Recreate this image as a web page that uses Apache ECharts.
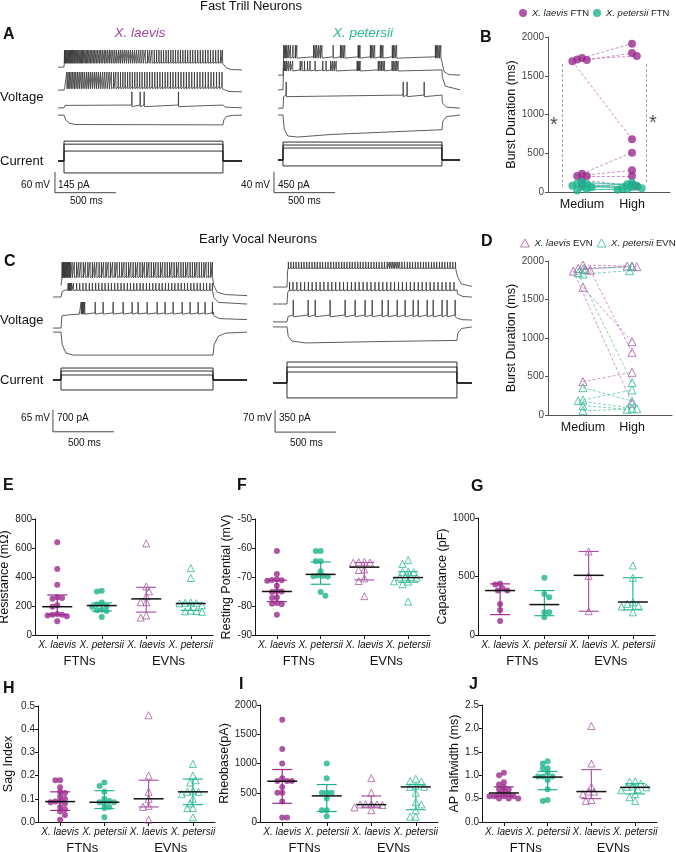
<!DOCTYPE html>
<html><head><meta charset="utf-8">
<script src="https://cdn.jsdelivr.net/npm/echarts@6/dist/echarts.min.js"></script>
<style>html,body{margin:0;padding:0;background:#fff}#c{width:676px;height:852px}</style>
</head><body><div id="c"></div>
<script>
const FONT = '"Liberation Sans", Arial, Helvetica, sans-serif';
const C_PUR = '#9b2a8d', C_TEAL = '#1db38c', C_PUR_L = '#aa5aa3', C_TEAL_L = '#2dba97', C_TRACE = '#333333';

// ================= Panel A / C : membrane voltage traces (ms, mV) and current steps (pA) =================
// scale bars: [mV, pA, ms]
const aLaevisScale = [60, 145, 500];
const aPetersiiScale = [40, 450, 500];
const cLaevisScale = [65, 700, 500];
const cPetersiiScale = [70, 350, 500];
const aStepMs = 1303, cLaevisStepMs = 1246, cPetersiiStepMs = 1393;
const aLaevisCurrents = [138, 117, 69, -83];
const aPetersiiCurrents = [385, 321, 257, -128];
const cLaevisCurrents = [382, 287, 159, -318];
const cPetersiiCurrents = [334, 254, 175, -238];

// A, X. laevis FTN
const aL1Before = [[-49,-78],[0,-78],[2,-66]];
const aL1Spikes = [3,9,16,24,31,38,46,53,61,69,78,86,95,104,112,122,131,141,150,160,171,181,192,203,214,226,238,250,262,275,288,301,315,329,342,356,371,385,400,415,430,446,461,477,493,509,526,543,560,577,594,612,629,647,665,684,702,720,739,758,777,796,815,835,854,874,893,913,933,953,973,993,1013,1034,1054,1075,1095,1116,1137,1158,1179,1200,1221,1242,1263,1284,1298];
const aL1Level = [-63, -29];
const aL1After = [[1303,-63],[1310,-72],[1330,-80],[1370,-85],[1459,-86]];
const aL2Before = [[-49,-144],[0,-144],[6,-136]];
const aL2Spikes = [22,33,45,57,70,83,96,110,124,139,153,168,184,199,215,231,248,264,281,298,316,333,351,369,387,406,424,443,462,481,500,520,539,559,579,599,619,639,660,680,701,722,743,764,785,806,828,849,871,892,914,936,958,980,1002,1024,1046,1068,1091,1113,1136,1158,1181,1204,1226,1249,1272,1294];
const aL2Level = [-135, -92];
const aL2After = [[1303,-135],[1315,-143],[1350,-148],[1459,-149]];
const aL3Before = [[-49,-195],[0,-195],[8,-188]];
const aL3Spikes = [555, 623, 656, 937];
const aL3Level = [-187, -149];
const aL3After = [[1303,-187],[1320,-193],[1459,-195]];
const aL4Before = [[-49,-216],[0,-216],[15,-230],[40,-239],[90,-243]];
const aL4Level = [-244, -244];
const aL4After = [[1303,-244],[1310,-230],[1330,-220],[1380,-217],[1459,-216]];

// A, X. petersii FTN
const aP1Before = [[-41,-67],[0,-67],[4,-40]];
const aP1Spikes = [5,14,22,31,45,60,80,100,112,250,262,275,290,305,318,410,470,480,492,505,615,622,630,715,725,737,750,797,808,818,895,905,917,930,1248,1258,1268,1280,1292];
const aP1Level = [-32, -10];
const aP1After = [[1303,-32],[1306,-45],[1320,-60],[1360,-66],[1451,-67]];
const aP2Before = [[-41,-95],[0,-95],[4,-60]];
const aP2Spikes = [8,16,28,42,60,78,140,155,175,200,220,262,325,352,390,405,420,435,607,615,622,631,780,792,805,818,830,893,905,918,930,942];
const aP2Level = [-57, -40];
const aP2After = [[1303,-57],[1306,-70],[1330,-88],[1451,-95]];
const aP3Before = [[-41,-130],[0,-130],[5,-108]];
const aP3Spikes = [25, 984, 1016, 1156];
const aP3Level = [-105, -80];
const aP3After = [[1303,-105],[1306,-120],[1340,-128],[1451,-130]];
const aP4Before = [[-41,-143],[0,-143],[10,-170],[40,-183],[120,-185]];
const aP4Level = [-180, -180];
const aP4After = [[400,-180],[800,-176],[1303,-171],[1310,-155],[1340,-146],[1451,-143]];

// C, X. laevis EVN
const cL1Before = [[0,-105],[6,-90]];
const cL1Spikes = [8,14,20,26,32,38,45,52,60,68,76,90,108,127,145,163,182,200,219,237,256,274,292,311,330,348,367,385,404,422,441,459,478,497,515,534,553,571,590,609,627,646,665,683,702,720,739,758,776,795,814,832,851,870,889,907,926,945,963,982,1001,1020,1038,1057,1076,1095,1113,1132,1151,1170,1188,1207,1226,1240];
const cL1Level = [-77, -36];
const cL1After = [[1246,-77],[1252,-105],[1280,-125],[1350,-132],[1525,-135]];
const cL2Before = [[-66,-139],[0,-139],[10,-122],[40,-118]];
const cL2Spikes = [57,63,70,78,86,101,127,152,179,204,231,256,283,308,335,360,387,412,439,464,491,516,543,568,595,620,647,672,699,724,751,776,803,828,855,880,907,932,959,984,1011,1036,1063,1088,1115,1140,1167,1192,1219,1240];
const cL2Level = [-118, -98];
const cL2After = [[1246,-118],[1252,-140],[1290,-155],[1525,-160]];
const cL3Before = [[-66,-231],[0,-231],[8,-195],[60,-192],[150,-190]];
const cL3Spikes = [164,170,177,185,193,279,344,426,508,582,631,705,787,852,918,992,1057,1123,1180,1240];
const cL3Level = [-186, -154];
const cL3After = [[1246,-183],[1255,-195],[1300,-203],[1525,-206]];
const cL4Before = [[-66,-243],[0,-243],[10,-280],[40,-305],[100,-311]];
const cL4Level = [-311, -311];
const cL4After = [[1246,-311],[1255,-280],[1290,-255],[1350,-246],[1525,-243]];

// C, X. petersii EVN
const cP1Before = [[-115,-118],[0,-118],[5,-65]];
const cP1Spikes = [10,31,52,73,95,117,138,160,181,204,226,247,270,291,314,335,358,381,402,424,447,468,490,513,534,556,579,600,622,645,666,688,711,732,754,777,798,820,838,852,866,879,894,908,922,941,962,985,1006,1028,1051,1072,1094,1117,1138,1160,1183,1204,1226,1249,1270,1292,1315,1336,1358,1380];
const cP1Level = [-57, -38];
const cP1After = [[1393,-57],[1398,-85],[1430,-108],[1516,-116]];
const cP2Before = [[-115,-172],[0,-172],[6,-135]];
const cP2Spikes = [20,48,80,111,143,174,205,238,270,301,335,366,398,431,462,494,527,558,590,623,655,687,720,752,784,817,849,880,913,945,978,1010,1042,1075,1107,1140,1172,1204,1237,1270,1302,1335,1368];
const cP2Level = [-127, -102];
const cP2After = [[1393,-127],[1398,-140],[1440,-148],[1516,-150]];
const cP3Before = [[-115,-229],[0,-229],[8,-212]];
const cP3Spikes = [50,172,230,352,475,557,639,697,779,828,902,967,1033,1074,1148,1197,1270,1311,1377];
const cP3Level = [-207, -159];
const cP3After = [[1393,-207],[1398,-218],[1440,-222],[1516,-223]];
const cP4Before = [[-115,-245],[0,-245],[10,-275],[40,-290],[150,-296]];
const cP4Level = [-296, -296];
const cP4After = [[700,-292],[1393,-288],[1400,-265],[1430,-250],[1516,-245]];

// ================= Panel B / D : burst duration (ms) =================
const burstLevels = ['Medium', 'High'];
const bLaevisMedium   = [1729, 1703, 1710, 1686, 236, 206, 206, 150, 90];
const bLaevisHigh     = [1914, 1794, 1755, 680, 508, 280, 206, 86, 70];
const bPetersiiMedium = [20, 40, 60, 80, 100, 110, 130, 70];
const bPetersiiHigh   = [50, 30, 120, 60, 40, 100, 80, 50];
const bSigMedium = [1650, 70];
const bSigHigh = [1650, 120];
const dLaevisMedium   = [1892, 1948, 1905, 1658, 1880, 433, 1870];
const dLaevisHigh     = [1935, 1935, 1926, 952, 814, 554, 152];
const dPetersiiMedium = [1896, 1831, 1850, 355, 195, 186, 121, 56];
const dPetersiiHigh   = [1926, 1874, 420, 182, 325, 87, 74, 80];

// ================= Panels E-J =================
const groupLabels = ['X. laevis', 'X. petersii', 'X. laevis', 'X. petersii'];
const cellTypes = ['FTNs', 'EVNs'];

const resFtnLaevis = [640, 455, 347, 260, 255, 250, 205, 195, 145, 140, 140, 135, 130, 95];
const resFtnPetersii = [305, 300, 225, 210, 200, 195, 175, 170, 165, 125];
const resEvnLaevis = [632, 335, 301, 267, 226, 226, 135, 120];
const resEvnPetersii = [461, 393, 225, 222, 220, 218, 205, 168, 165, 163, 160];
const resMedian = [195, 203, 249, 217], resQ1 = [140, 165, 158, 170], resQ3 = [276, 221, 329, 221];

const rmpFtnLaevis = [-61, -69, -70.8, -71, -71.3, -71.1, -73, -75, -75.2, -74.8, -77, -77.2, -79.2, -79, -79.4, -83];
const rmpFtnPetersii = [-61, -61, -64.6, -64.6, -68, -69.6, -69.8, -69.5, -69.7, -75.2, -76.5];
const rmpEvnLaevis = [-64.8, -65, -65.1, -64.9, -67.4, -67.6, -70.5, -71.4, -76.6];
const rmpEvnPetersii = [-64.2, -65.5, -68.2, -68.3, -68.1, -70, -70.1, -70.2, -69.9, -71.5, -71.6, -72.5, -78.5];
const rmpMedian = [-75, -69.1, -66.6, -70.2], rmpQ1 = [-78.5, -72.5, -71, -71.8], rmpQ3 = [-71.1, -64.8, -65, -68.2];

const capFtnLaevis = [437, 431, 400, 380, 380, 266, 214, 120];
const capFtnPetersii = [489, 351, 323, 194, 194, 151];
const capEvnLaevis = [714, 506, 203];
const capEvnPetersii = [594, 489, 280, 266, 250, 243, 194];
const capMedian = [380, 260, 510, 282], capQ1 = [174, 165, 203, 215], capQ3 = [437, 380, 714, 490];

const sagFtnLaevis = [0.18, 0.18, 0.15, 0.13, 0.125, 0.11, 0.1, 0.09, 0.088, 0.085, 0.08, 0.065, 0.055, 0.045, 0.03, 0.01];
const sagFtnPetersii = [0.17, 0.155, 0.13, 0.1, 0.09, 0.085, 0.085, 0.08, 0.065, 0.06, 0.02];
const sagEvnLaevis = [0.46, 0.2, 0.13, 0.1, 0.07, 0.065, 0.01];
const sagEvnPetersii = [0.25, 0.2, 0.18, 0.17, 0.135, 0.13, 0.13, 0.12, 0.1, 0.08, 0.06, 0.06, 0.02];
const sagMedian = [0.088, 0.085, 0.1, 0.13], sagQ1 = [0.05, 0.058, 0.065, 0.075], sagQ3 = [0.13, 0.135, 0.18, 0.185];

const rheoFtnLaevis = [1750, 1250, 1000, 750, 700, 700, 700, 600, 500, 500, 350, 75, 75];
const rheoFtnPetersii = [1000, 750, 500, 500, 500, 400, 200, 200, 100];
const rheoEvnLaevis = [750, 500, 300, 300, 300, 300, 290, 250, 200];
const rheoEvnPetersii = [740, 700, 690, 620, 600, 600, 500, 340, 300, 200, 90, 90];
const rheoMedian = [697, 446, 297, 600], rheoQ1 = [320, 180, 255, 210], rheoQ3 = [897, 640, 446, 640];

const apFtnLaevis = [1.05, 1.0, 0.85, 0.8, 0.75, 0.7, 0.7, 0.65, 0.6, 0.6, 0.55, 0.55, 0.55, 0.55, 0.5, 0.5, 0.5];
const apFtnPetersii = [1.3, 1.25, 1.15, 1.15, 1.05, 0.97, 0.97, 0.97, 0.9, 0.7, 0.47, 0.45];
const apEvnLaevis = [2.05, 1.25, 0.75, 0.65, 0.65, 0.6, 0.47, 0.45];
const apEvnPetersii = [0.87, 0.86, 0.82, 0.76, 0.75, 0.74, 0.7, 0.68, 0.6, 0.53, 0.45];
const apMedian = [0.62, 0.96, 0.65, 0.74], apQ1 = [0.55, 0.69, 0.5, 0.6], apQ3 = [0.75, 1.08, 1.12, 0.82];

// ================= build =================
const option = { animation:false, backgroundColor:'#fff', textStyle:{fontFamily:FONT},
  grid:[], xAxis:[], yAxis:[], series:[], legend:[], graphic:{elements:[]} };
function addGrid(g){ option.grid.push(Object.assign({outerBoundsMode:'none', containLabel:false}, g)); return option.grid.length-1; }
function addAxis(kind, a){ option[kind].push(a); return option[kind].length-1; }
function lineSeries(xi, yi, data, color, width, extra){
  return Object.assign({type:'line', xAxisIndex:xi, yAxisIndex:yi, data, showSymbol:false, symbol:'none',
    lineStyle:{color, width}, silent:true, clip:false, z:2, animation:false}, extra||{});
}
function traceData(before, spikes, level, after){
  const d = before.slice();
  const base = level[0], peak = level[1], amp = peak - base;
  spikes.forEach(t => { d.push([t, base], [t+1.2, peak], [t+2.6, base - amp*0.12], [t+4, base]); });
  return d.concat(after);
}

function tracePanel(L, traces, currents, stepMs, scale){
  const gi = addGrid({left:L.left, top:L.top, width:L.width, height:L.height});
  const xi = addAxis('xAxis', {gridIndex:gi, type:'value', min:-150, max:1600, show:false});
  const yv = addAxis('yAxis', {gridIndex:gi, type:'value', min:L.mvMin, max:0, show:false});
  const pxPerMv = L.height / (-L.mvMin);
  const pxPerPa = scale[0]*pxPerMv / scale[1];
  const yc = addAxis('yAxis', {gridIndex:gi, type:'value', min:-(L.height - L.curBase)/pxPerPa, max:L.curBase/pxPerPa, show:false});
  traces.forEach(tr => option.series.push(lineSeries(xi, yv, traceData(tr[0], tr[1], tr[2], tr[3]), C_TRACE, 0.8)));
  currents.forEach(I => option.series.push(lineSeries(xi, yc,
    [[L.tStart,0],[0,0],[0,I],[stepMs,I],[stepMs,0],[L.tEnd,0]], '#1a1a1a', 0.9)));
  option.series.push(lineSeries(xi, yv,
    [[L.barT, L.barTop],[L.barT, L.barTop - scale[0]],[L.barT + scale[2], L.barTop - scale[0]]], '#333', 0.9));
}

tracePanel({left:45.7, top:40, width:213.5, height:160, mvMin:-460, curBase:121, tStart:-49, tEnd:1459, barT:-74, barTop:-379},
  [[aL1Before,aL1Spikes,aL1Level,aL1After],[aL2Before,aL2Spikes,aL2Level,aL2After],[aL3Before,aL3Spikes,aL3Level,aL3After],[aL4Before,[],aL4Level,aL4After]],
  aLaevisCurrents, aStepMs, aLaevisScale);
tracePanel({left:264.7, top:40, width:213.5, height:160, mvMin:-305, curBase:120, tStart:-41, tEnd:1451, barT:-74, barTop:-251},
  [[aP1Before,aP1Spikes,aP1Level,aP1After],[aP2Before,aP2Spikes,aP2Level,aP2After],[aP3Before,aP3Spikes,aP3Level,aP3After],[aP4Before,[],aP4Level,aP4After]],
  aPetersiiCurrents, aStepMs, aPetersiiScale);
tracePanel({left:42.7, top:250, width:213.5, height:200, mvMin:-592, curBase:130, tStart:-66, tEnd:1525, barT:-66, barTop:-473},
  [[cL1Before,cL1Spikes,cL1Level,cL1After],[cL2Before,cL2Spikes,cL2Level,cL2After],[cL3Before,cL3Spikes,cL3Level,cL3After],[cL4Before,[],cL4Level,cL4After]],
  cLaevisCurrents, cLaevisStepMs, cLaevisScale);
tracePanel({left:268.7, top:250, width:213.5, height:200, mvMin:-637, curBase:133, tStart:-115, tEnd:1516, barT:-98, barTop:-510},
  [[cP1Before,cP1Spikes,cP1Level,cP1After],[cP2Before,cP2Spikes,cP2Level,cP2After],[cP3Before,cP3Spikes,cP3Level,cP3After],[cP4Before,[],cP4Level,cP4After]],
  cPetersiiCurrents, cPetersiiStepMs, cPetersiiScale);

// beeswarm layout (pixel offsets) so that overlapping points spread sideways (partial overlap allowed)
function swarmOffsets(values, pxPerUnit, dist){
  const order = values.map((v,i)=>i).sort((a,b)=> values[b]-values[a] || a-b);
  const placed = [], off = new Array(values.length).fill(0);
  let flip = 1;
  for (const i of order){
    const y = values[i]*pxPerUnit;
    let chosen = 0;
    for (let k=0;k<80;k++){
      const x = k===0 ? 0 : (k%2 ? flip : -flip) * Math.ceil(k/2) * dist * 0.5;
      if (placed.every(p => (p.x-x)*(p.x-x) + (p.y-y)*(p.y-y) >= dist*dist*0.92)) { chosen = x; break; }
    }
    flip = -flip;
    placed.push({x:chosen, y}); off[i] = chosen;
  }
  return off;
}

const axisBlack = {color:'#151515', width:1};
const plainNum = v => String(Math.round(v*1000)/1000);
// ---- Burst panels
function burstPanel(P, sets, sigs, legendCfg){
  const gi = addGrid({left:P.left, top:P.top, width:P.width, height:P.height});
  const xi = addAxis('xAxis', {gridIndex:gi, type:'value', min:P.xMin, max:P.xMax, splitLine:{show:false},
    axisLine:{onZero:false, lineStyle:{color:'#555', width:1}}, axisTick:{show:false},
    axisLabel:{customValues:[1,2], formatter:v=>burstLevels[Math.round(v)-1], fontSize:12.5, color:'#111', margin:6}});
  const yi = addAxis('yAxis', {gridIndex:gi, type:'value', min:0, max:2000, interval:500, splitLine:{show:false},
    name:'Burst Duration (ms)', nameLocation:'middle', nameGap:P.nameGap, nameTextStyle:{fontSize:12.5, color:'#111'},
    axisLine:{show:true, onZero:false, lineStyle:{color:'#555', width:1}}, axisTick:{show:true, length:3, lineStyle:{color:'#555'}},
    axisLabel:{fontSize:10, color:'#444', margin:4, formatter:plainNum}});
  const pxY = P.height/2000, pxX = P.width/(P.xMax-P.xMin);
  sets.forEach(s => {
    const om = swarmOffsets(s.med, pxY, s.size*0.6), oh = swarmOffsets(s.high, pxY, s.size*0.6);
    const pm = s.med.map((v,i)=>[1 + om[i]/pxX, v]), ph = s.high.map((v,i)=>[2 + oh[i]/pxX, v]);
    const n = Math.min(pm.length, ph.length);
    const lines = [];
    for (let i=0;i<n;i++) lines.push({coords:[pm[i], ph[i]]});
    option.series.push({type:'lines', coordinateSystem:'cartesian2d', xAxisIndex:xi, yAxisIndex:yi, data:lines, silent:true, z:1,
      lineStyle:{color:s.lineColor, width:0.8, type:s.dash ? [3,2] : 'solid', opacity:0.85}});
    option.series.push({type:'scatter', name:s.name, xAxisIndex:xi, yAxisIndex:yi, data:pm.concat(ph), symbol:s.symbol, symbolSize:s.size, z:3,
      itemStyle:s.itemStyle});
  });
  if (sigs){
    option.series.push({type:'lines', coordinateSystem:'cartesian2d', xAxisIndex:xi, yAxisIndex:yi, silent:true, z:1,
      data:sigs.map(s=>({coords:[[s.x, s.span[0]],[s.x, s.span[1]]]})), lineStyle:{color:'#333', width:0.9, type:[3,2]}});
    option.series.push({type:'scatter', xAxisIndex:xi, yAxisIndex:yi, symbolSize:0, silent:true,
      data:sigs.map(s=>[s.starX, (s.span[0]+s.span[1])/2]),
      label:{show:true, formatter:'*', fontSize:20, color:'#222', position:'inside', fontFamily:FONT}});
  }
  option.legend.push(legendCfg);
}
const legendFmt = name => { const p = name.split(' '); return '{i|' + p[0] + ' ' + p[1] + '} ' + p[2]; };
const legendText = {fontSize:9.5, color:'#222', fontFamily:FONT, rich:{i:{fontStyle:'italic', fontSize:9.5, color:'#222', fontFamily:FONT}}};

burstPanel({left:548, top:37, width:122, height:155, xMin:0.32, xMax:2.76, nameGap:22},
  [{name:'X. laevis FTN', med:bLaevisMedium, high:bLaevisHigh, size:8, symbol:'circle', itemStyle:{color:C_PUR}, lineColor:'#b75ba8', dash:true},
   {name:'X. petersii FTN', med:bPetersiiMedium, high:bPetersiiHigh, size:8, symbol:'circle', itemStyle:{color:C_TEAL}, lineColor:'#39bd9c', dash:false}],
  [{x:0.6, starX:0.44, span:bSigMedium}, {x:2.28, starX:2.42, span:bSigHigh}],
  {data:['X. laevis FTN','X. petersii FTN'], orient:'horizontal', left:519, top:8, width:157, itemWidth:8, itemHeight:8, itemGap:4, padding:0, icon:'circle',
   formatter:legendFmt, textStyle:legendText});

burstPanel({left:548, top:261, width:124, height:154, xMin:0.286, xMax:2.816, nameGap:22},
  [{name:'X. laevis EVN', med:dLaevisMedium, high:dLaevisHigh, size:8, symbol:'triangle', itemStyle:{color:'rgba(255,255,255,0)', borderColor:C_PUR_L, borderWidth:1}, lineColor:'#b963ad', dash:true},
   {name:'X. petersii EVN', med:dPetersiiMedium, high:dPetersiiHigh, size:8, symbol:'triangle', itemStyle:{color:'rgba(255,255,255,0)', borderColor:C_TEAL_L, borderWidth:1}, lineColor:'#3cc0a0', dash:true}],
  null,
  {data:[{name:'X. laevis EVN', icon:'triangle', itemStyle:{color:'rgba(255,255,255,0)', borderColor:C_PUR_L, borderWidth:1}},
         {name:'X. petersii EVN', icon:'triangle', itemStyle:{color:'rgba(255,255,255,0)', borderColor:C_TEAL_L, borderWidth:1}}],
   orient:'horizontal', left:520, top:238, width:156, itemWidth:9, itemHeight:8, itemGap:4, padding:0, formatter:legendFmt, textStyle:legendText});

// ---- Dot panels E-J
function dotPanel(P, groups, med, q1, q3){
  const gi = addGrid({left:P.left, top:P.top, width:P.width, height:P.height});
  const xMin = 0.5, xMax = 4.5;
  const xi = addAxis('xAxis', {gridIndex:gi, type:'value', min:xMin, max:xMax, splitLine:{show:false},
    axisLine:{onZero:false, lineStyle:axisBlack}, axisTick:{show:true, customValues:[1,2,3,4], length:4, lineStyle:axisBlack},
    axisLabel:{customValues:[1,2,3,4], formatter:v=>groupLabels[Math.round(v)-1], fontStyle:'italic', fontSize:10, color:'#111', margin:5}});
  addAxis('xAxis', {gridIndex:gi, type:'value', min:xMin, max:xMax, position:'bottom', offset:16, splitLine:{show:false},
    axisLine:{show:false}, axisTick:{show:false},
    axisLabel:{customValues:[1.5,3.5], formatter:v=> v < 2.5 ? cellTypes[0] : cellTypes[1], fontSize:13, color:'#111', margin:4}});
  const yi = addAxis('yAxis', {gridIndex:gi, type:'value', min:P.yMin, max:P.yMax, interval:P.yInt, splitLine:{show:false},
    name:P.yName, nameLocation:'middle', nameGap:P.nameGap, nameTextStyle:{fontSize:12.5, color:'#111'},
    axisLine:{show:true, onZero:false, lineStyle:axisBlack}, axisTick:{show:true, length:3, lineStyle:axisBlack},
    axisLabel:{fontSize:10, color:'#222', margin:3, formatter:P.fmt || plainNum}});
  const pxY = P.height/(P.yMax-P.yMin), pxX = P.width/(xMax-xMin);
  const colors = [C_PUR, C_TEAL, C_PUR_L, C_TEAL_L];
  groups.forEach((vals, g) => {
    const hollow = g >= 2;
    const size = hollow ? 7 : 6;
    const off = swarmOffsets(vals, pxY, size*0.8);
    option.series.push({type:'scatter', xAxisIndex:xi, yAxisIndex:yi, silent:true, z:2,
      data: vals.map((v,i)=>[g+1 + off[i]/pxX, v]), symbol: hollow ? 'triangle' : 'circle', symbolSize:size,
      itemStyle: hollow ? {color:'rgba(255,255,255,0)', borderColor:colors[g], borderWidth:1} : {color:colors[g]}});
  });
  option.series.push({type:'custom', xAxisIndex:xi, yAxisIndex:yi, silent:true, z:4,
    data: med.map((m,g)=>[g+1, m, q1[g], q3[g]]), encode:{x:0, y:[1,2,3]},
    renderItem:(params, api) => {
      const x = api.value(0);
      const pm = api.coord([x, api.value(1)]), p1 = api.coord([x, api.value(2)]), p3 = api.coord([x, api.value(3)]);
      const col = colors[params.dataIndex];
      const st = {stroke:col, lineWidth:1.2};
      return {type:'group', children:[
        {type:'line', shape:{x1:pm[0], y1:p1[1], x2:pm[0], y2:p3[1]}, style:st},
        {type:'line', shape:{x1:pm[0]-10, y1:p1[1], x2:pm[0]+10, y2:p1[1]}, style:st},
        {type:'line', shape:{x1:pm[0]-10, y1:p3[1], x2:pm[0]+10, y2:p3[1]}, style:st},
        {type:'line', shape:{x1:pm[0]-15, y1:pm[1], x2:pm[0]+15, y2:pm[1]}, style:{stroke:'#111', lineWidth:1.5}}
      ]};
    }});
}
dotPanel({left:35, top:519, width:178, height:116, yMin:0, yMax:800, yInt:200, yName:'Resistance (mΩ)', nameGap:21},
  [resFtnLaevis, resFtnPetersii, resEvnLaevis, resEvnPetersii], resMedian, resQ1, resQ3);
dotPanel({left:255, top:519, width:175, height:116, yMin:-90, yMax:-50, yInt:10, yName:'Resting Potential (mV)', nameGap:22},
  [rmpFtnLaevis, rmpFtnPetersii, rmpEvnLaevis, rmpEvnPetersii], rmpMedian, rmpQ1, rmpQ3);
dotPanel({left:478, top:518, width:177, height:117, yMin:0, yMax:1000, yInt:500, yName:'Capacitance (pF)', nameGap:22},
  [capFtnLaevis, capFtnPetersii, capEvnLaevis, capEvnPetersii], capMedian, capQ1, capQ3);
dotPanel({left:38, top:706, width:177, height:116, yMin:0, yMax:0.5, yInt:0.1, yName:'Sag Index', nameGap:23, fmt:v=>v.toFixed(1)},
  [sagFtnLaevis, sagFtnPetersii, sagEvnLaevis, sagEvnPetersii], sagMedian, sagQ1, sagQ3);
dotPanel({left:260, top:705, width:178, height:117, yMin:0, yMax:2000, yInt:500, yName:'Rheobase(pA)', nameGap:22},
  [rheoFtnLaevis, rheoFtnPetersii, rheoEvnLaevis, rheoEvnPetersii], rheoMedian, rheoQ1, rheoQ3);
dotPanel({left:482, top:705, width:175, height:117, yMin:0, yMax:2.5, yInt:0.5, yName:'AP halfwidth (ms)', nameGap:20, fmt:v=>v.toFixed(1)},
  [apFtnLaevis, apFtnPetersii, apEvnLaevis, apEvnPetersii], apMedian, apQ1, apQ3);

// ---- text
function txt(text, x, y, size, opt){
  opt = opt || {};
  option.graphic.elements.push({type:'text', x, y, silent:true, style:{text,
    font:(opt.style||'') + ' ' + (opt.weight||'normal') + ' ' + size + 'px ' + FONT,
    fill:opt.color||'#111', align:opt.align||'left', verticalAlign:'middle', textAlign:opt.align||'left', textVerticalAlign:'middle'}});
}
txt('Fast Trill Neurons', 251, 6, 13, {align:'center'});
txt('Early Vocal Neurons', 258, 239, 13, {align:'center'});
txt('X. laevis', 140, 33, 13.5, {align:'center', style:'italic', color:'#a3469c'});
txt('X. petersii', 363, 33, 13.5, {align:'center', style:'italic', color:'#27b592'});
[['A',3,35],['B',480,38],['C',4,262],['D',481,242],['E',3,486],['F',237,486],['G',471,487],['H',3,689],['I',239,685],['J',469,685]]
  .forEach(a => txt(a[0], a[1], a[2], 16, {weight:'bold'}));
txt('Voltage', 0, 97, 13); txt('Current', 0, 161, 13);
txt('Voltage', 0, 320, 13); txt('Current', 0, 380, 13);
txt(aLaevisScale[0] + ' mV', 50, 185, 10, {align:'right'}); txt(aLaevisScale[1] + ' pA', 58, 185, 10); txt(aLaevisScale[2] + ' ms', 70, 201, 10);
txt(aPetersiiScale[0] + ' mV', 270, 185, 10, {align:'right'}); txt(aPetersiiScale[1] + ' pA', 278, 185, 10); txt(aPetersiiScale[2] + ' ms', 288, 201, 10);
txt(cLaevisScale[0] + ' mV', 50, 418, 10, {align:'right'}); txt(cLaevisScale[1] + ' pA', 57, 418, 10); txt(cLaevisScale[2] + ' ms', 68, 443, 10);
txt(cPetersiiScale[0] + ' mV', 272, 418, 10, {align:'right'}); txt(cPetersiiScale[1] + ' pA', 279, 418, 10); txt(cPetersiiScale[2] + ' ms', 290, 443, 10);

const chart = echarts.init(document.getElementById('c'), null, {renderer:'canvas'});
chart.setOption(option);
</script></body></html>
